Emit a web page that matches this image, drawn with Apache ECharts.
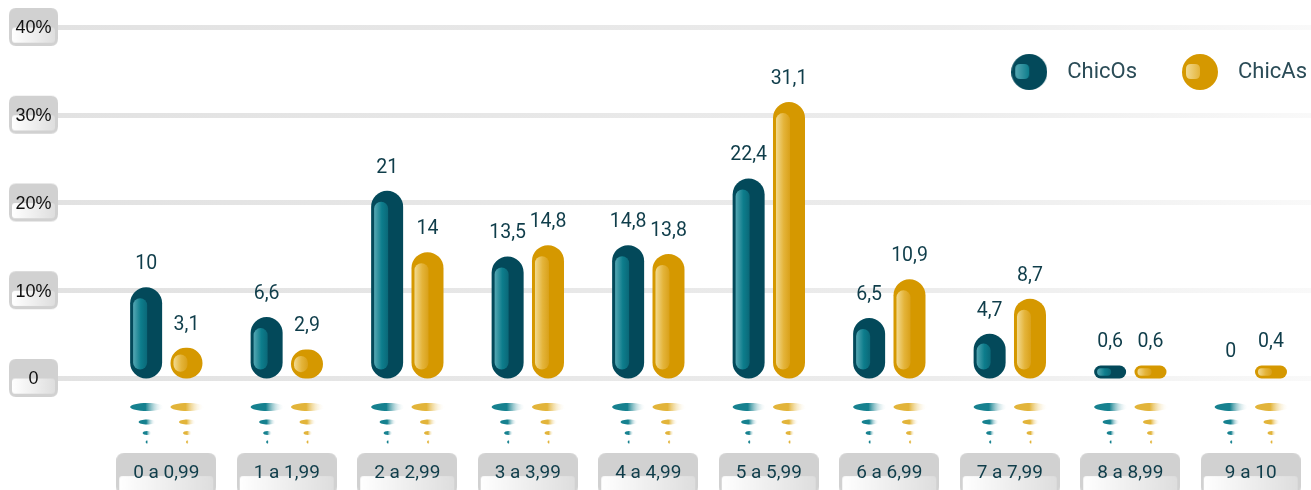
<!DOCTYPE html>
<html>
<head>
<meta charset="utf-8">
<script src="https://cdn.jsdelivr.net/npm/echarts@6/dist/echarts.min.js"></script>
<style>
    html, body { margin: 0; padding: 0; background: #fff; }
    #chart { width: 1311px; height: 490px; }
</style>
</head>
<body>
<div id="chart"></div>
<script>
var categories = ['0 a 0,99', '1 a 1,99', '2 a 2,99', '3 a 3,99', '4 a 4,99',
                  '5 a 5,99', '6 a 6,99', '7 a 7,99', '8 a 8,99', '9 a 10'];
var chicOs = [10, 6.6, 21, 13.5, 14.8, 22.4, 6.5, 4.7, 0.6, 0];
var chicAs = [3.1, 2.9, 14, 14.8, 13.8, 31.1, 10.9, 8.7, 0.6, 0.4];
var yTicks = [0, 10, 20, 30, 40];

var TEXT_COLOR = '#0f3d4a';

function roundRect(ctx, x, y, w, h, r){
    ctx.beginPath();
    ctx.moveTo(x + r, y);
    ctx.lineTo(x + w - r, y);
    ctx.quadraticCurveTo(x + w, y, x + w, y + r);
    ctx.lineTo(x + w, y + h - r);
    ctx.quadraticCurveTo(x + w, y + h, x + w - r, y + h);
    ctx.lineTo(x + r, y + h);
    ctx.quadraticCurveTo(x, y + h, x, y + h - r);
    ctx.lineTo(x, y + r);
    ctx.quadraticCurveTo(x, y, x + r, y);
    ctx.closePath();
}

// grey label plate with a lighter inset in its lower half
function plate(w, h, r, insetTop, insetBottom){
    var c = document.createElement('canvas');
    c.width = w; c.height = h;
    var ctx = c.getContext('2d');
    roundRect(ctx, 0, 0, w, h, r);
    ctx.fillStyle = '#d1d1d1';
    ctx.fill();
    var g = ctx.createLinearGradient(3, 0, w - 3, 0);
    g.addColorStop(0, '#ffffff');
    g.addColorStop(1, '#dedede');
    roundRect(ctx, 3, insetTop, w - 6, h - insetTop - insetBottom, 3);
    ctx.fillStyle = g;
    ctx.fill();
    return c;
}

function legendIcon(outer, hiA, hiB){
    var c = document.createElement('canvas');
    c.width = 36; c.height = 36;
    var ctx = c.getContext('2d');
    ctx.beginPath();
    ctx.arc(18, 18, 18, 0, Math.PI * 2);
    ctx.fillStyle = outer;
    ctx.fill();
    var g = ctx.createLinearGradient(4, 0, 18, 0);
    g.addColorStop(0, hiA);
    g.addColorStop(1, hiB);
    roundRect(ctx, 4, 10, 14, 15, 5);
    ctx.fillStyle = g;
    ctx.fill();
    return 'image://' + c.toDataURL();
}

var palette = {
    ChicOs: {outer: '#03495a', hi: ['#55a7b3', '#0d7d8c', '#0a6878'], glow: '#16818f', off: -0.167},
    ChicAs: {outer: '#d59800', hi: ['#f2da90', '#e4b43a', '#d9a11a'], glow: '#e2b43a', off: 0.168}
};

function fmt(v){
    return String(v).replace('.', ',');
}

function makeRender(name){
    var p = palette[name];
    return function(params, api){
        var cat = api.value(0), v = api.value(1);
        var top = api.coord([cat, v]);
        var base = api.coord([cat, 0]);
        var band = api.size([1, 0])[0];
        var cx = base[0] + p.off * band;
        var children = [];

        // fading reflections below the baseline
        var drops = [[17, 4, 29], [8.5, 2.5, 44], [4.5, 2, 55], [1.5, 1.5, 64]];
        drops.forEach(function(d){
            children.push({
                type: 'ellipse',
                shape: {cx: cx + 1, cy: base[1] + d[2], rx: d[0], ry: d[1]},
                style: {fill: new echarts.graphic.LinearGradient(0, 0, 1, 0, [
                    {offset: 0, color: p.glow},
                    {offset: 0.45, color: p.glow},
                    {offset: 1, color: 'rgba(255,255,255,0)'}
                ])}
            });
        });

        var y1 = base[1] + 0.5;
        var y0 = top[1] - 3;
        if(v > 0){
            if(y1 - y0 < 13){
                y0 = y1 - 13;
            }
            var h = y1 - y0;
            children.push({
                type: 'rect',
                shape: {x: cx - 16, y: y0, width: 32, height: h, r: Math.min(16, h / 2)},
                style: {fill: p.outer}
            });
            var it = Math.min(11, h * 0.22), ib = Math.min(9, h * 0.22);
            var ih = h - it - ib;
            children.push({
                type: 'rect',
                shape: {x: cx - 13, y: y0 + it, width: 14, height: ih, r: Math.min(7, ih / 2)},
                style: {fill: new echarts.graphic.LinearGradient(0, 0, 1, 0, [
                    {offset: 0, color: p.hi[0]},
                    {offset: 0.55, color: p.hi[1]},
                    {offset: 1, color: p.hi[2]}
                ])}
            });
        }
        children.push({
            type: 'text',
            style: {
                text: fmt(v), x: cx, y: y0 - 23,
                align: 'center', verticalAlign: 'middle',
                fontFamily: 'Roboto', fontSize: 19.5, fill: TEXT_COLOR
            }
        });
        return {type: 'group', children: children};
    };
}

var chart = echarts.init(document.getElementById('chart'));

var option = {
    animation: false,
    grid: [
        {left: 58, right: 0, top: 27, bottom: 112, outerBoundsMode: 'none'},
        {left: 106, right: 0, top: 27, bottom: 112, outerBoundsMode: 'none'}
    ],
    legend: {
        right: 4,
        top: 54,
        padding: 0,
        itemWidth: 36,
        itemHeight: 36,
        itemGap: 45,
        textStyle: {fontFamily: 'Roboto', fontSize: 22, color: '#2b4c57', padding: [0, 0, 0, 15]},
        data: [
            {name: 'ChicOs', icon: legendIcon('#03495a', '#55a7b3', '#0d7d8c')},
            {name: 'ChicAs', icon: legendIcon('#d59800', '#f2da90', '#e4b43a')}
        ]
    },
    xAxis: [
        {gridIndex: 0, type: 'value', show: false, min: 0, max: 1},
        {
            gridIndex: 1,
            type: 'category',
            data: categories,
            axisLine: {show: false},
            axisTick: {show: false},
            axisLabel: {
                margin: 75,
                formatter: function(v){ return '{b|' + v + '}'; },
                rich: {
                    b: {
                        width: 100, height: 40, align: 'center', verticalAlign: 'middle',
                        padding: [0, 0, 2, 0],
                        fontFamily: 'Roboto', fontSize: 19, color: TEXT_COLOR,
                        backgroundColor: {image: plate(100, 40, 8, 22, 0)}
                    }
                }
            }
        }
    ],
    yAxis: [
        {
            gridIndex: 0,
            type: 'value',
            min: yTicks[0],
            max: yTicks[yTicks.length - 1],
            interval: yTicks[1] - yTicks[0],
            axisLine: {show: false},
            axisTick: {show: false},
            splitLine: {
                lineStyle: {
                    width: 5,
                    color: new echarts.graphic.LinearGradient(0, 0, 1, 0, [
                        {offset: 0, color: '#e2e2e2'},
                        {offset: 0.7, color: '#ececec'},
                        {offset: 1, color: '#f9f9f9'}
                    ])
                }
            },
            axisLabel: {
                margin: 0,
                formatter: function(v){ return '{b|' + (v === 0 ? '0' : v + '%') + '}'; },
                rich: {
                    b: {
                        width: 49, height: 35, align: 'center', verticalAlign: 'middle',
                        padding: [3, 0, 0, 0],
                        fontFamily: 'Liberation Sans', fontSize: 18, color: '#111',
                        backgroundColor: {image: plate(49, 35, 7, 18, 3)}
                    }
                }
            }
        },
        {
            gridIndex: 1,
            type: 'value',
            show: false,
            min: yTicks[0],
            max: yTicks[yTicks.length - 1],
            splitLine: {show: false}
        }
    ],
    series: [
        {
            name: 'ChicOs',
            type: 'custom',
            xAxisIndex: 1,
            yAxisIndex: 1,
            itemStyle: {color: '#03495a'},
            renderItem: makeRender('ChicOs'),
            data: chicOs.map(function(v, i){ return [i, v]; })
        },
        {
            name: 'ChicAs',
            type: 'custom',
            xAxisIndex: 1,
            yAxisIndex: 1,
            itemStyle: {color: '#d59800'},
            renderItem: makeRender('ChicAs'),
            data: chicAs.map(function(v, i){ return [i, v]; })
        }
    ]
};

chart.setOption(option);
</script>
</body>
</html>
